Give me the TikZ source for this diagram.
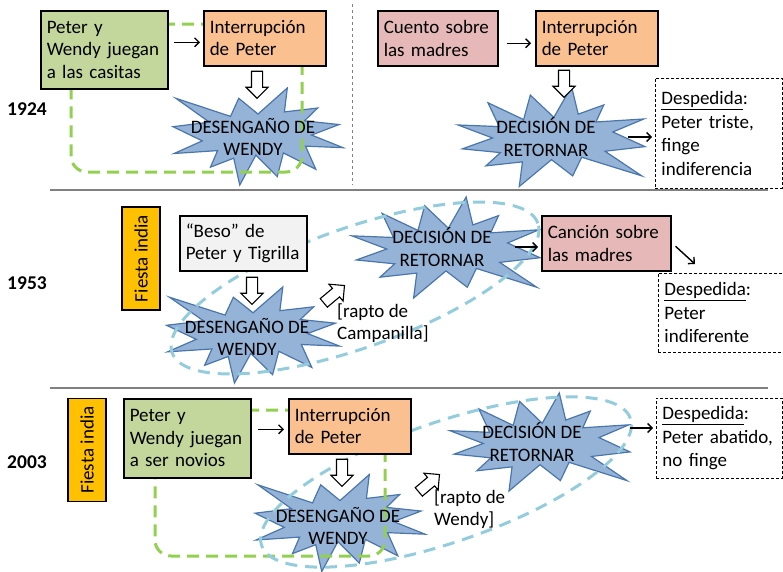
\documentclass[tikz,border=0pt]{standalone}
\usepackage{fontspec}
\setmainfont{Carlito}
\usetikzlibrary{shapes.arrows, arrows.meta}

\definecolor{verde}{HTML}{C3D69B}
\definecolor{naranja}{HTML}{FAC090}
\definecolor{rosa}{HTML}{E6B9B8}
\definecolor{gris}{HTML}{F2F2F2}
\definecolor{amarillo}{HTML}{FFC000}
\definecolor{azul}{HTML}{95B3D7}
\definecolor{azuloscuro}{HTML}{4A76AE}
\definecolor{lima}{HTML}{92D050}
\definecolor{celeste}{HTML}{93CDDD}

\tikzset{
    card/.style={draw=black, line width=1.5pt, align=left, anchor=north west,
        inner xsep=6pt, font=\fontsize{19}{22.5}\selectfont},
    despedida/.style={draw=black, dash pattern=on 3pt off 2pt, line width=0.9pt,
        align=left, anchor=north west, inner xsep=6pt, font=\fontsize{19}{23.5}\selectfont},
    burst/.style={fill=azul, draw=azuloscuro, line width=1.2pt},
    rotulo/.style={align=center, inner sep=0pt, font=\fontsize{19}{22.5}\selectfont},
    hueca/.style={single arrow, draw=black, fill=white, line width=1.1pt,
        minimum height=27pt, inner xsep=0pt, inner ysep=5pt, single arrow head extend=5.5pt},
    flecha/.style={-{Straight Barb[length=4.5pt, width=9pt]}, line width=1.4pt},
    lazo/.style={lima, line width=3pt, dash pattern=on 12pt off 7pt, rounded corners=16pt},
    ovalo/.style={celeste, line width=3pt, dash pattern=on 12pt off 8pt},
    fiesta/.style={draw=black, fill=amarillo, line width=1.5pt, rotate=90, minimum width=103pt,
        minimum height=38pt, inner sep=0pt, font=\fontsize{19}{22.5}\selectfont},
    anio/.style={font=\bfseries\fontsize{19.5}{22}\selectfont},
    nota/.style={anchor=west, align=left, inner sep=0pt, font=\fontsize{19}{22.5}\selectfont}
}

% one explosion, unit size, centred on the origin
\newcommand{\explosion}{%
    \filldraw[burst] (0,-0.2315) -- (0.1723,-0.5) -- (0.1553,-0.2535) -- (0.3509,-0.2937)
        -- (0.2732,-0.1613) -- (0.4767,-0.1233) -- (0.3151,-0.015) -- (0.5,0.1153)
        -- (0.2795,0.0992) -- (0.34,0.3377) -- (0.1491,0.1693) -- (0.1133,0.4138)
        -- (-0.0124,0.1914) -- (-0.1072,0.5) -- (-0.1428,0.2235) -- (-0.2795,0.3156)
        -- (-0.2376,0.1452) -- (-0.4937,0.1753) -- (-0.3277,0.0451) -- (-0.5,-0.1012)
        -- (-0.2858,-0.1474) -- (-0.4829,-0.3937) -- (-0.1615,-0.2074) -- (-0.1133,-0.3937) -- cycle;
}

\begin{document}
\begin{tikzpicture}[x=1pt, y=-1pt]
    \useasboundingbox (0,0) rectangle (783,571);

    % Separate the three versions
    \foreach \y in {190,388} {
        \draw[gray, line width=1.2pt] (50,\y) -- (768,\y);
    }
    \draw[gray, dashed, line width=0.8pt] (352,4) -- (352,185);

    % Explosions (the "decision" ones are turned upside down)
    \begin{scope}[shift={(258,136.5)}, xscale=170, yscale=97] \explosion \end{scope}
    \begin{scope}[shift={(253,335)}, xscale=173, yscale=96] \explosion \end{scope}
    \begin{scope}[shift={(340,523)}, xscale=170, yscale=97] \explosion \end{scope}
    \begin{scope}[shift={(551.5,136.5)}, xscale=-187, yscale=-100] \explosion \end{scope}
    \begin{scope}[shift={(446,247.5)}, xscale=-188, yscale=-101] \explosion \end{scope}
    \begin{scope}[shift={(540,442)}, xscale=-180, yscale=-98] \explosion \end{scope}

    % Dashed groupings
    \draw[lazo] (71,24) -- (302,24) -- (302,172) -- (71,172) -- cycle;
    \draw[lazo] (155,410) -- (385,410) -- (385,556) -- (155,556) -- cycle;
    \draw[ovalo, rotate around={19.5:(355,288)}] (355,288) ellipse [x radius=194pt, y radius=60pt];
    \draw[ovalo, rotate around={19:(446,482)}] (446,482) ellipse [x radius=195pt, y radius=60pt];

    % Years
    \node[anio] (a1924) at (27,109) {1924};
    \node[anio] (a1953) at (27,283) {1953};
    \node[anio] (a2003) at (27,462) {2003};

    % 1924
    \node[card, fill=verde, text width=115pt, minimum height=78pt] (juego1) at (40,10) {Peter y\\Wendy juegan\\a las casitas};
    \node[card, fill=naranja, text width=110pt, minimum height=55pt] (interr1) at (203,10) {Interrupción\\de Peter};
    \node[card, fill=rosa, text width=108pt, minimum height=55pt] (cuento) at (377,10) {Cuento sobre\\las madres};
    \node[card, fill=naranja, text width=110pt, minimum height=55pt] (interr2) at (535,10) {Interrupción\\de Peter};
    \node[despedida, text width=115pt, minimum height=110pt] (desp1) at (655,78) {\underline{Despedida}:\\Peter triste,\\finge\\indiferencia};
    \node[hueca, rotate=-90] (hueca1) at (257,82) {};
    \node[hueca, rotate=-90] (hueca2) at (564,81) {};
    \node[rotulo] (desengano1) at (253,137) {DESENGAÑO DE\\WENDY};
    \node[rotulo] (decision1) at (546,137) {DECISIÓN DE\\RETORNAR};

    % 1953
    \node[fiesta] (fiesta1) at (141,258.5) {Fiesta india};
    \node[card, fill=gris, text width=115pt, minimum height=55pt] (beso) at (179,215) {“Beso” de\\Peter y Tigrilla};
    \node[card, fill=rosa, text width=117pt, minimum height=55pt] (cancion) at (541,215) {Canción sobre\\las madres};
    \node[despedida, text width=113pt, minimum height=79pt] (desp2) at (658,273) {\underline{Despedida}:\\Peter\\indiferente};
    \node[hueca, rotate=-90] (hueca3) at (252,288) {};
    \node[hueca, rotate=40] (hueca4) at (332,296) {};
    \node[rotulo] (desengano2) at (247,337) {DESENGAÑO DE\\WENDY};
    \node[rotulo] (decision2) at (442,247) {DECISIÓN DE\\RETORNAR};
    \node[nota] (rapto1) at (337,323) {[rapto de\\Campanilla]};

    % 2003
    \node[fiesta] (fiesta2) at (87,450) {Fiesta india};
    \node[card, fill=verde, text width=115pt, minimum height=79pt] (juego2) at (123,398) {Peter y\\Wendy juegan\\a ser novios};
    \node[card, fill=naranja, text width=110pt, minimum height=55pt] (interr3) at (288,398) {Interrupción\\de Peter};
    \node[despedida, text width=114pt, minimum height=80pt] (desp3) at (656,398) {\underline{Despedida}:\\Peter abatido,\\no finge};
    \node[hueca, rotate=-90] (hueca5) at (342,470) {};
    \node[hueca, rotate=40] (hueca6) at (427,485) {};
    \node[rotulo] (desengano3) at (338,526) {DESENGAÑO DE\\WENDY};
    \node[rotulo] (decision3) at (532,442) {DECISIÓN DE\\RETORNAR};
    \node[nota] (rapto2) at (434,509) {[rapto de\\Wendy]};

    % Add the arrows
    \coordinate (c1) at ([yshift=-4pt]interr1.west);
    \draw[flecha, shorten <=5pt, shorten >=3pt] (juego1.east |- c1) -- (c1);
    \draw[flecha, shorten <=8pt, shorten >=4pt] ([yshift=-5pt]cuento.east) -- ([yshift=-5pt]interr2.west);
    \draw[flecha, shorten <=32pt, shorten >=3pt] (decision1.east) -- (decision1.east -| desp1.west);
    \draw[flecha, shorten <=23pt, shorten >=3pt] (decision2.east) -- (decision2.east -| cancion.west);
    \draw[flecha] ([shift={(4pt,-3pt)}]cancion.east) -- ([shift={(-26pt,9pt)}]desp2.north);
    \coordinate (c3) at ([yshift=-3pt]interr3.west);
    \draw[flecha, shorten <=6pt, shorten >=4pt] (juego2.east |- c3) -- (c3);
    \coordinate (d3) at ([yshift=14pt]decision3.east);
    \draw[flecha, shorten <=48pt, shorten >=3pt] (d3) -- (d3 -| desp3.west);
\end{tikzpicture}
\end{document}
